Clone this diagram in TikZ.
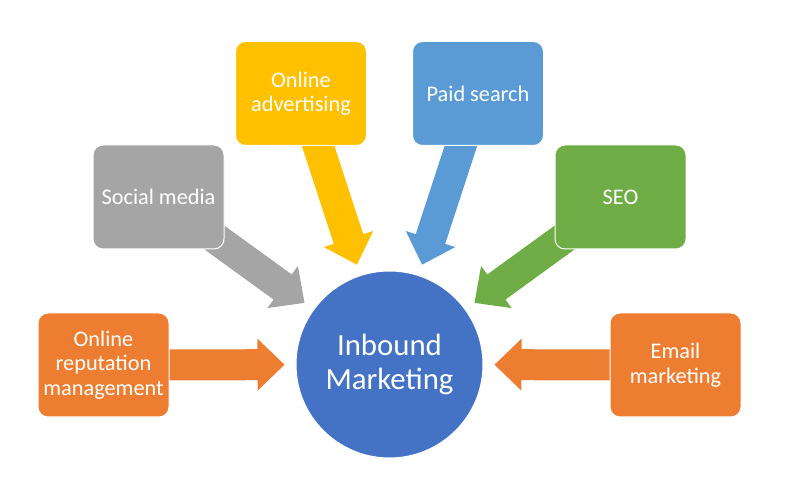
\documentclass[tikz,border=0pt]{standalone}
\usepackage{fontspec}
\setmainfont{Carlito}
\usetikzlibrary{calc,backgrounds}
\definecolor{cOrange}{HTML}{ED7D31}
\definecolor{cGray}{HTML}{A5A5A5}
\definecolor{cYellow}{HTML}{FFC000}
\definecolor{cLBlue}{HTML}{5B9BD5}
\definecolor{cGreen}{HTML}{70AD47}
\definecolor{cBlue}{HTML}{4472C4}
\tikzset{
  itembox/.style={draw=white, line width=1pt, rounded corners=10pt, minimum width=131pt, minimum height=104pt,
    inner sep=0pt, align=center, text=white, font=\fontsize{22.3}{24.5}\selectfont},
  hub/.style={circle, draw=white, line width=1pt, fill=cBlue, minimum size=187pt, inner sep=0pt,
    align=center, text=white, font=\fontsize{30.8}{33.5}\selectfont}
}
\newcommand\blkarrow[3]{%
  \coordinate (hb) at ($(#2.center)!132pt!(#1.center)$);
  \coordinate (tp) at ($(#2.center)!105pt!(#1.center)$);
  \fill[#3] ($(#1.center)!15.5pt!-90:(#2.center)$) -- ($(hb)!15.5pt!90:(#1.center)$)
    -- ($(hb)!26pt!90:(#1.center)$) -- (tp) -- ($(hb)!26pt!-90:(#1.center)$)
    -- ($(hb)!15.5pt!-90:(#1.center)$) -- ($(#1.center)!15.5pt!90:(#2.center)$) -- cycle;
}
\begin{document}
\begin{tikzpicture}[x=1pt,y=-1pt]
\useasboundingbox (0,0) rectangle (793,494);
\node[hub] (c) at (389.5,364.5) {Inbound\\Marketing};
\node[itembox, fill=cOrange] (orm) at (103.5,365) {Online\\reputation\\management};
\node[itembox, fill=cGray] (sm) at (158.5,197) {Social media};
\node[itembox, fill=cYellow] (oa) at (301,93.5) {Online\\advertising};
\node[itembox, fill=cLBlue] (ps) at (478,93.5) {Paid search};
\node[itembox, fill=cGreen] (seo) at (620.5,197) {SEO};
\node[itembox, fill=cOrange] (em) at (675.5,365) {Email\\marketing};
\begin{scope}[on background layer]
\blkarrow{orm}{c}{cOrange}
\blkarrow{sm}{c}{cGray}
\blkarrow{oa}{c}{cYellow}
\blkarrow{ps}{c}{cLBlue}
\blkarrow{seo}{c}{cGreen}
\blkarrow{em}{c}{cOrange}
\end{scope}
\end{tikzpicture}
\end{document}
